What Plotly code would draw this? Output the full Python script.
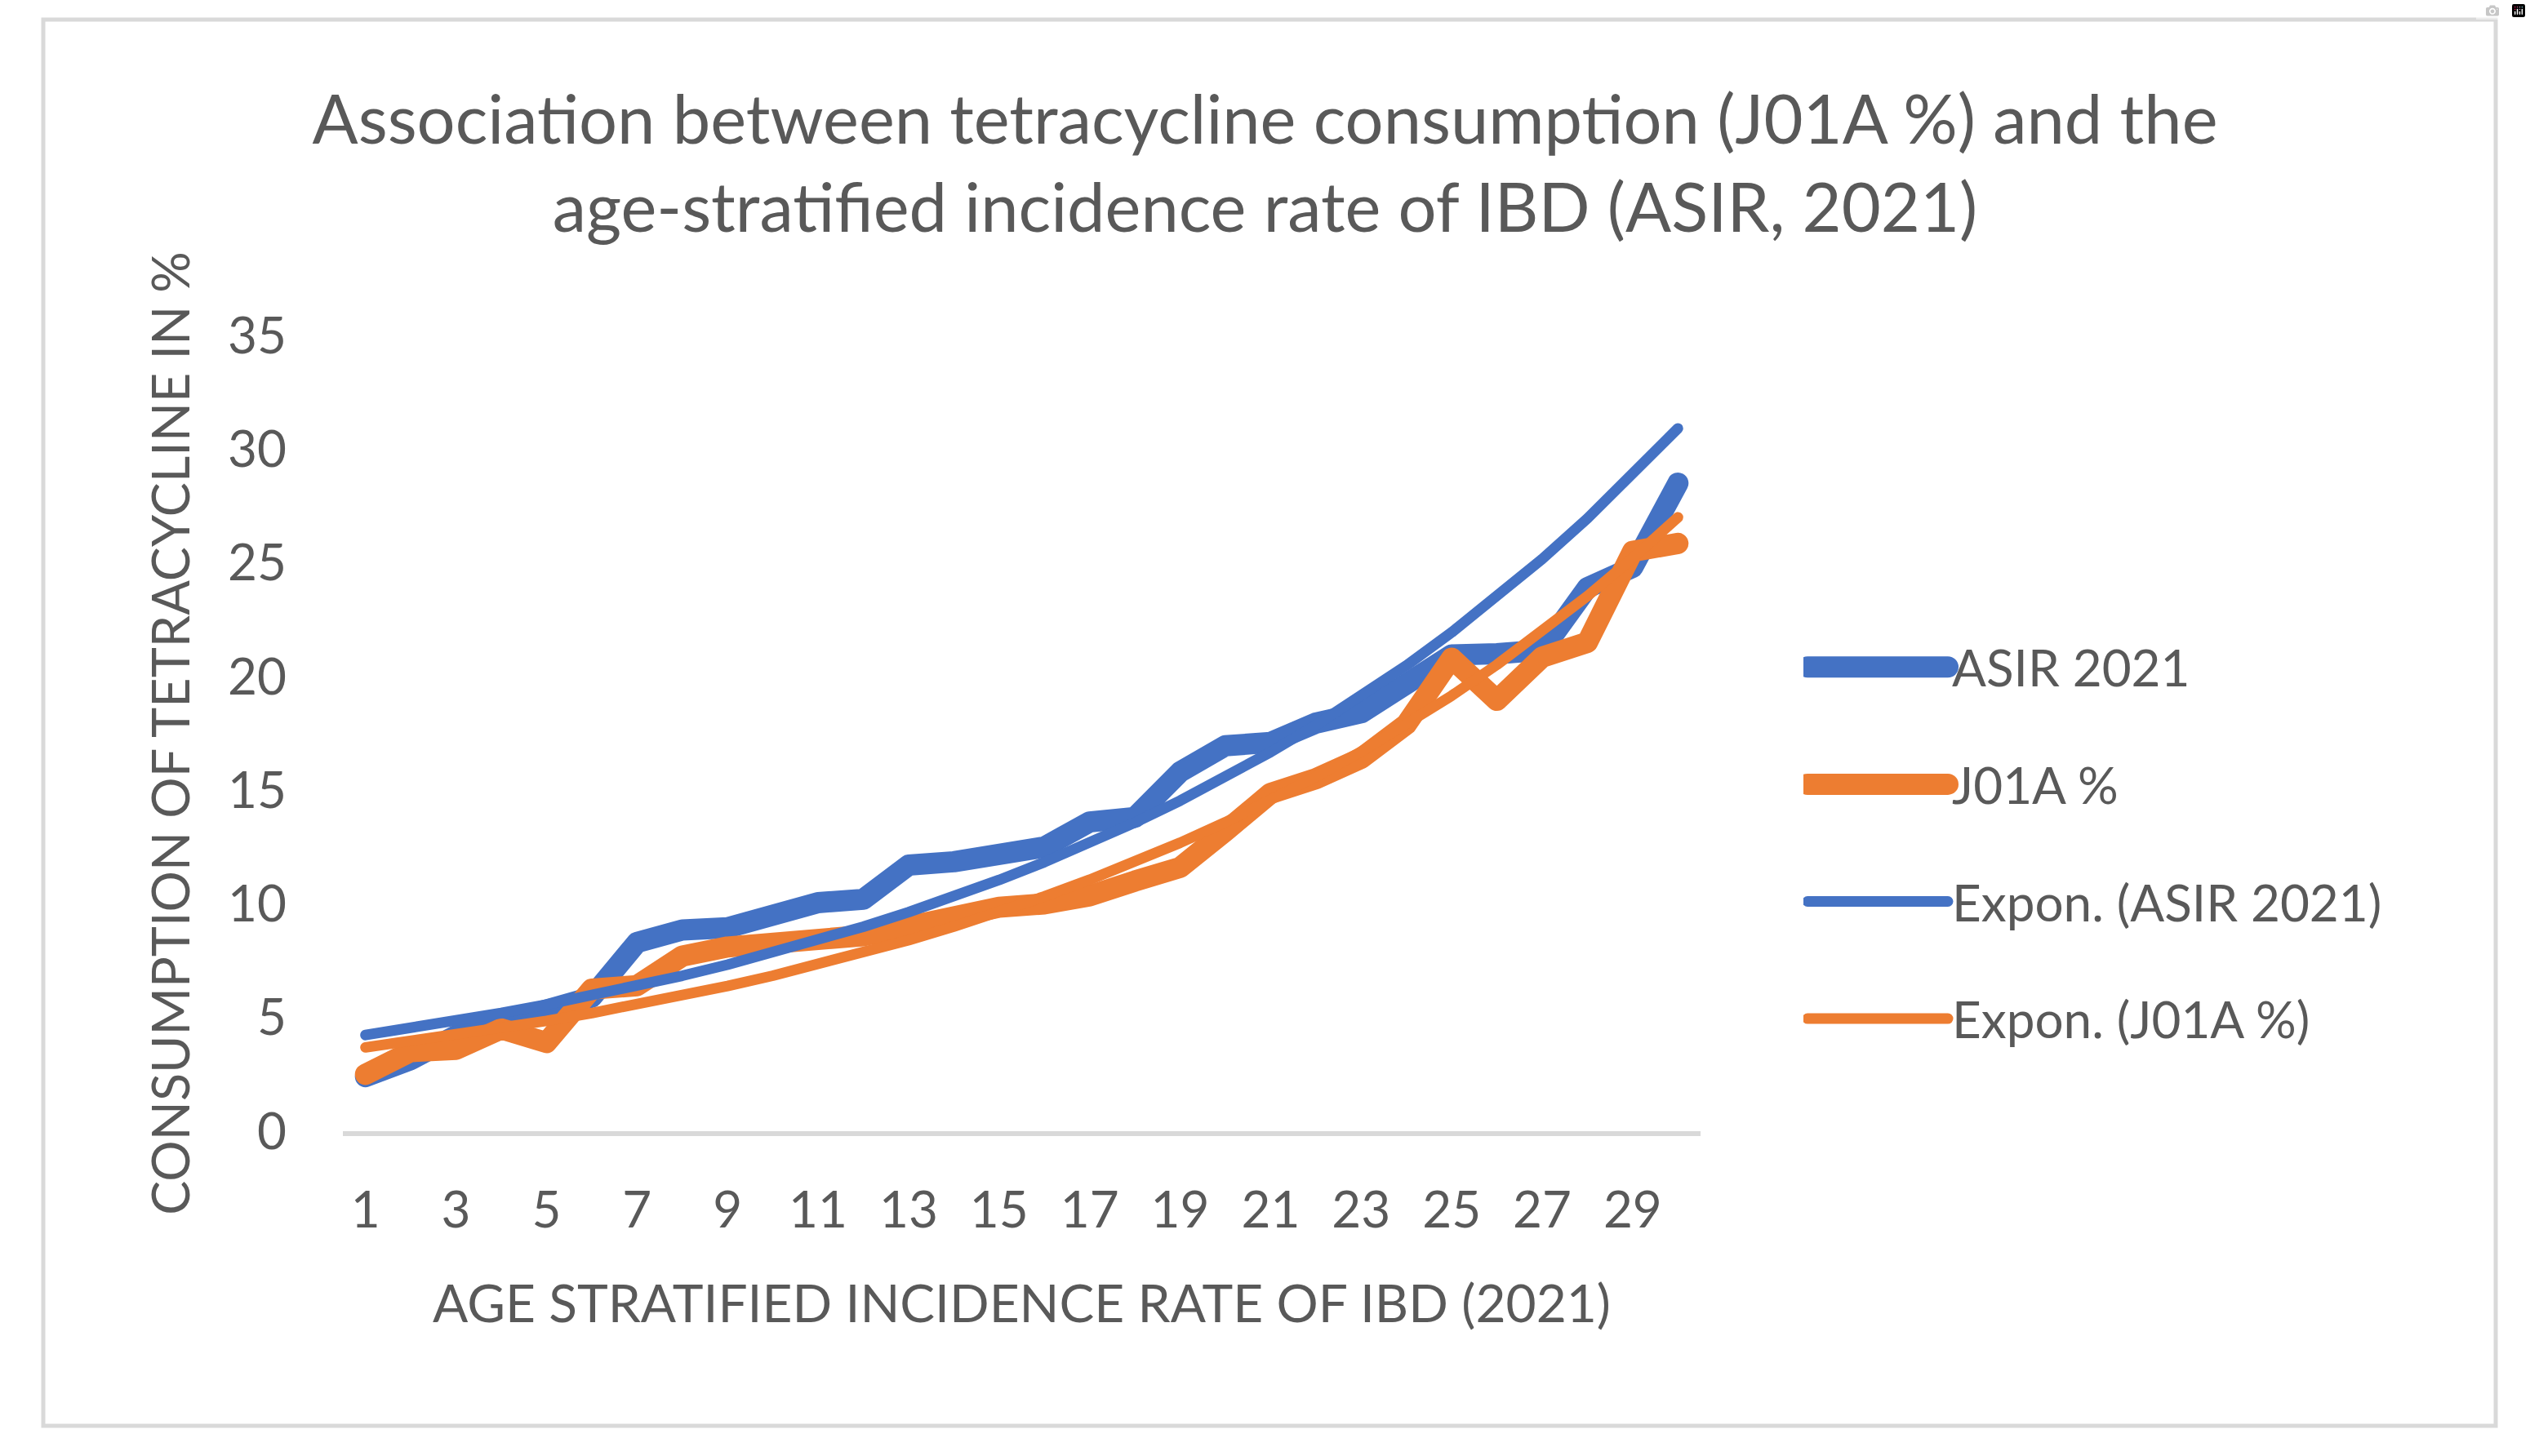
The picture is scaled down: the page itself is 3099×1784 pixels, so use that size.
import numpy as np
import plotly.graph_objects as go

# ---- data ----
categories = list(range(1, 31))
asir_2021 = [2.4, 3.15, 4.2, 4.8, 5.3, 5.9, 8.3, 8.85, 8.95, 9.4,
             10.05, 10.2, 11.7, 11.85, 12.2, 12.5, 13.6, 13.8, 15.8, 16.95,
             17.1, 17.95, 18.4, 19.6, 20.95, 21.0, 21.15, 23.9, 24.8, 28.5]
j01a_pct = [2.5, 3.5, 3.6, 4.5, 3.9, 6.25, 6.4, 7.7, 8.1, 8.25,
            8.3, 8.6, 9.0, 9.4, 9.85, 10.0, 10.35, 11.0, 11.6, 13.2,
            14.86, 15.5, 16.4, 17.9, 20.8, 18.95, 20.85, 21.5, 25.5, 25.85]
x_tick_labels = [str(v) for v in range(1, 30, 2)]
y_tick_values = [0, 5, 10, 15, 20, 25, 30, 35]

BLUE = "#4472C4"
ORANGE = "#ED7D31"
TEXT = "#595959"
FONT = "Lato"


def expon_trend(x, y):
    # Excel-style exponential trendline: y = a * exp(b x), least squares on ln(y)
    x = np.asarray(x, float)
    b, ln_a = np.polyfit(x, np.log(np.asarray(y, float)), 1)
    return np.exp(ln_a) * np.exp(b * x)


fig = go.Figure()
fig.add_trace(go.Scatter(x=categories, y=asir_2021, mode="lines", name="ASIR 2021",
                         line=dict(color=BLUE, width=26), legendgroup="a"))
fig.add_trace(go.Scatter(x=categories, y=j01a_pct, mode="lines", name="J01A %",
                         line=dict(color=ORANGE, width=26), legendgroup="b"))
fig.add_trace(go.Scatter(x=categories, y=expon_trend(categories, asir_2021), mode="lines",
                         name="Expon. (ASIR 2021)", line=dict(color=BLUE, width=13),
                         legendgroup="c"))
fig.add_trace(go.Scatter(x=categories, y=expon_trend(categories, j01a_pct), mode="lines",
                         name="Expon. (J01A %)", line=dict(color=ORANGE, width=13),
                         legendgroup="d"))

L, R, T, B = 420, 2083, 411, 1386
W, H = 3099, 1784
pw, ph = R - L, B - T


def px(xpix):
    return (xpix - L) / pw


def py(ypix):
    return (B - ypix) / ph


fig.update_layout(
    width=W, height=H,
    margin=dict(l=L, r=W - R, t=T, b=H - B, pad=0),
    paper_bgcolor="white", plot_bgcolor="white",
    font=dict(family=FONT, color=TEXT, size=62),
    title=dict(
        text="Association between tetracycline consumption (J01A %) and the<br>"
             "age-stratified incidence rate of IBD (ASIR, 2021)",
        x=0.5, xanchor="center", xref="container",
        y=1 - 176 / H, yanchor="middle", yref="container",
        font=dict(family=FONT, size=83, color=TEXT),
    ),
    xaxis=dict(
        range=[0.5, 30.5], tickmode="array",
        tickvals=list(range(1, 30, 2)), ticktext=x_tick_labels,
        showgrid=False, zeroline=False,
        showline=True, linecolor="#D9D9D9", linewidth=6,
        ticks="", ticklabelstandoff=38,
        tickfont=dict(family=FONT, size=62, color=TEXT),
        title=dict(text="AGE STRATIFIED INCIDENCE RATE OF IBD (2021)",
                   font=dict(family=FONT, size=64, color=TEXT), standoff=61),
        fixedrange=True,
    ),
    yaxis=dict(
        range=[0, 35], tickmode="array", tickvals=y_tick_values,
        showgrid=False, zeroline=False, showline=False,
        ticks="", ticklabelstandoff=68,
        tickfont=dict(family=FONT, size=62, color=TEXT),
        title=dict(text="CONSUMPTION OF TETRACYCLINE IN %",
                   font=dict(family=FONT, size=63, color=TEXT), standoff=26),
        fixedrange=True,
    ),
    legend=dict(
        x=px(2209), xanchor="left", y=py(1033), yanchor="middle",
        font=dict(family=FONT, size=62, color=TEXT),
        itemwidth=172, tracegroupgap=60, traceorder="grouped",
        bgcolor="rgba(0,0,0,0)",
    ),
    showlegend=True,
    shapes=[dict(type="rect", xref="paper", yref="paper",
                 x0=px(53), x1=px(3057), y0=py(1747), y1=py(24),
                 line=dict(color="#D9D9D9", width=5), fillcolor="rgba(0,0,0,0)",
                 layer="below")],
)

post = """
document.body.style.margin='0';
document.body.style.overflow='hidden';
var gd = document.querySelector('.js-plotly-plot');
function roundLines(){
  gd.querySelectorAll('.scatterlayer .js-line').forEach(function(p){
    p.style.strokeLinecap='round'; p.style.strokeLinejoin='round';
  });
  gd.querySelectorAll('.legend .traces').forEach(function(t){
    var d = t.__data__; if(!d || !d[0] || !d[0].trace) return;
    var w = d[0].trace.line.width;
    t.querySelectorAll('.js-line').forEach(function(p){
      p.style.strokeWidth = w + 'px'; p.style.strokeLinecap='round';
    });
  });
}
roundLines();
"""

fig.write_html("out.html", post_script=post)
